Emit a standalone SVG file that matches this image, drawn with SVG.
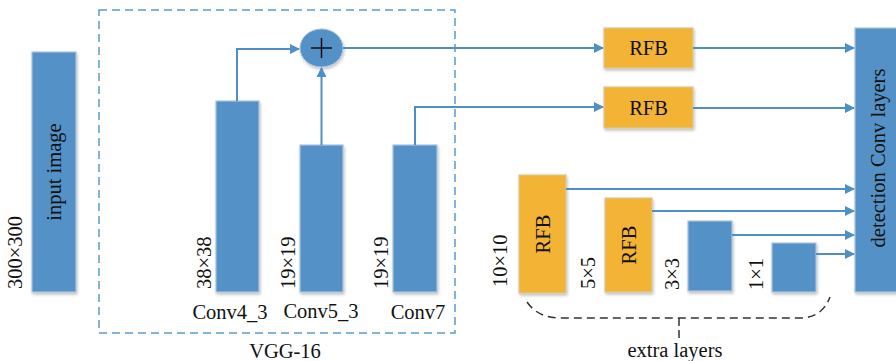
<svg xmlns="http://www.w3.org/2000/svg" width="896" height="361" viewBox="0 0 896 361" font-family="Liberation Serif">
<defs>
<marker id="ah" markerWidth="10" markerHeight="10" refX="9" refY="5" orient="auto" markerUnits="userSpaceOnUse">
<path d="M0,0 L10,5 L0,10 z" fill="#4f8fc6"/>
</marker>
<filter id="sh" x="-20%" y="-20%" width="140%" height="140%">
<feGaussianBlur in="SourceAlpha" stdDeviation="1.5"/>
<feOffset dx="1" dy="2"/>
<feComponentTransfer><feFuncA type="linear" slope="0.25"/></feComponentTransfer>
<feMerge><feMergeNode/><feMergeNode in="SourceGraphic"/></feMerge>
</filter>
</defs>
<style>
.b{fill:#5291c6;stroke:#a9c3dc;stroke-width:1.2;filter:url(#sh)}
.o{fill:#f3b334;stroke:#d9c79a;stroke-width:1.2;filter:url(#sh)}
text{font-size:20.5px;fill:#111}
.c{stroke:#4f8fc6;stroke-width:2;fill:none}
.a{marker-end:url(#ah)}
</style>
<rect x="0" y="0" width="896" height="361" fill="#fff"/>

<g id="vgg">
<rect x="99" y="10" width="356" height="323" fill="none" stroke="#5b9bd0" stroke-width="1.5" stroke-dasharray="8,5"/>
<text x="285" y="358" text-anchor="middle">VGG-16</text>
</g>

<g id="input">
<rect class="b" x="32" y="52" width="44" height="240"/>
<text transform="translate(61,172) rotate(-90)" text-anchor="middle">input image</text>
<text transform="translate(22,289) rotate(-90)">300×300</text>
</g>

<g id="conv4_3">
<rect class="b" x="216" y="101" width="43" height="191"/>
<text transform="translate(211,289) rotate(-90)">38×38</text>
<text x="230" y="319" text-anchor="middle">Conv4_3</text>
</g>
<g id="conv5_3">
<rect class="b" x="300" y="145" width="43" height="147"/>
<text transform="translate(295,289) rotate(-90)">19×19</text>
<text x="321" y="318" text-anchor="middle">Conv5_3</text>
</g>
<g id="conv7">
<rect class="b" x="393" y="145" width="44" height="147"/>
<text transform="translate(388,289) rotate(-90)">19×19</text>
<text x="418" y="319" text-anchor="middle">Conv7</text>
</g>

<g id="sum">
<ellipse cx="321.5" cy="48" rx="21.5" ry="19" fill="#5291c6" stroke="#a9c3dc" stroke-width="1" filter="url(#sh)"/>
<path d="M311,48 H332 M321.5,38 V58" stroke="#111" stroke-width="1.5"/>
</g>

<g id="rfb1">
<rect class="o" x="604" y="28" width="89" height="40"/>
<text x="648.5" y="55" text-anchor="middle">RFB</text>
</g>
<g id="rfb2">
<rect class="o" x="604" y="87" width="89" height="41"/>
<text x="648.5" y="115" text-anchor="middle">RFB</text>
</g>

<g id="detection">
<rect class="b" x="855" y="28" width="45" height="264"/>
<text transform="translate(885,158) rotate(-90)" text-anchor="middle">detection Conv layers</text>
</g>

<g id="extra10">
<rect class="o" x="519" y="175" width="47" height="118"/>
<text transform="translate(550,234) rotate(-90)" text-anchor="middle">RFB</text>
<text transform="translate(507,287) rotate(-90)">10×10</text>
</g>
<g id="extra5">
<rect class="o" x="605" y="198" width="47" height="94"/>
<text transform="translate(636,245) rotate(-90)" text-anchor="middle">RFB</text>
<text transform="translate(595,289) rotate(-90)">5×5</text>
</g>
<g id="extra3">
<rect class="b" x="688" y="221" width="44" height="70"/>
<text transform="translate(679,290) rotate(-90)">3×3</text>
</g>
<g id="extra1">
<rect class="b" x="772" y="243" width="44" height="49"/>
<text transform="translate(763,290) rotate(-90)">1×1</text>
</g>

<g id="extra-brace">
<path d="M527,302 Q538,318 560,318 H800 Q822,318 830,297" fill="none" stroke="#333" stroke-width="1.5" stroke-dasharray="8,5"/>
<path d="M679,318 V340" stroke="#333" stroke-width="1.5" stroke-dasharray="8,4"/>
<text x="675" y="357" text-anchor="middle">extra layers</text>
</g>

<g id="connectors">
<path class="c a" d="M237,101 V49 H299"/>
<path class="c a" d="M321.5,145 V68"/>
<path class="c a" d="M343,48 H603"/>
<path class="c a" d="M415,145 V107 H603"/>
<path class="c a" d="M693,48 H854"/>
<path class="c a" d="M693,108 H854"/>
<path class="c a" d="M566,189 H854"/>
<path class="c a" d="M652,211 H854"/>
<path class="c a" d="M732,235 H854"/>
<path class="c a" d="M816,254 H854"/>
</g>
</svg>
